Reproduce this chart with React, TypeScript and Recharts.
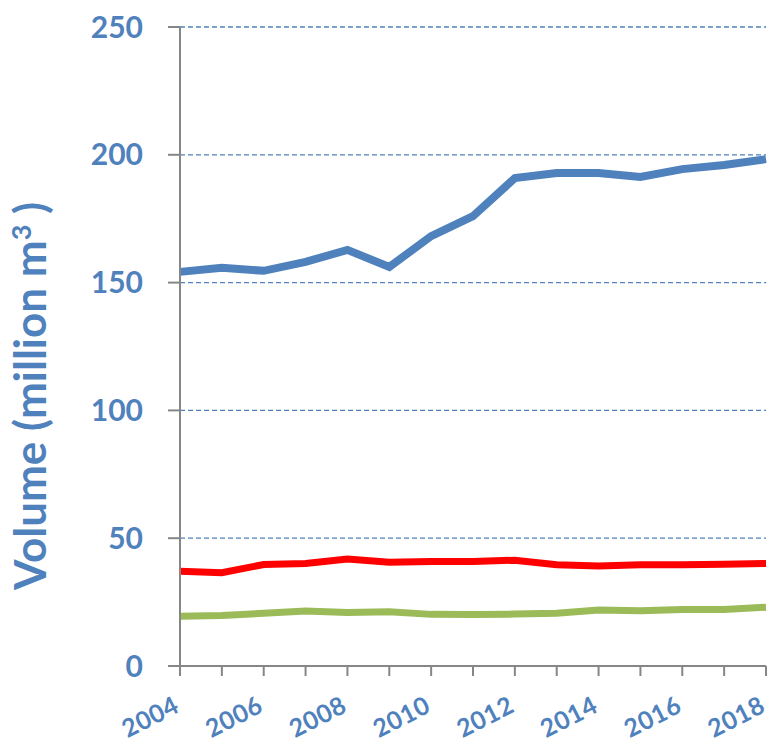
import { LineChart, Line, XAxis, YAxis, CartesianGrid } from 'recharts'

const YEARS = [2004, 2005, 2006, 2007, 2008, 2009, 2010, 2011, 2012, 2013, 2014, 2015, 2016, 2017, 2018]
const BLUE_SERIES = [154.2, 155.8, 154.6, 158.1, 162.8, 156.1, 168.2, 176, 190.9, 192.9, 192.9, 191.3, 194.4, 196, 198.3]
const RED_SERIES = [37.1, 36.5, 39.7, 40.1, 41.9, 40.6, 40.9, 40.9, 41.4, 39.6, 39.1, 39.6, 39.6, 39.8, 40.1]
const GREEN_SERIES = [19.5, 19.8, 20.6, 21.5, 20.9, 21.2, 20.2, 20.1, 20.3, 20.6, 21.9, 21.6, 22.1, 22.1, 23]
const Y_TICKS = [0, 50, 100, 150, 200, 250]

const TEXT_BLUE = '#4F81BD'
const AXIS_GREY = '#868686'

const data = YEARS.map((year, i) => ({
  year,
  blue: BLUE_SERIES[i],
  red: RED_SERIES[i],
  green: GREEN_SERIES[i],
}))

function YearTick({ x, y, payload }: any) {
  if (payload.value % 2 !== 0) return null
  return (
    <g transform={`translate(${x + 1},${y + 33})`}>
      <text
        x={0}
        y={0}
        textAnchor="end"
        transform="rotate(-27)"
        fill={TEXT_BLUE}
        fontFamily="Lato, sans-serif"
        fontWeight="bold"
        fontSize={25}
        letterSpacing={0.5}
      >
        {payload.value}
      </text>
    </g>
  )
}

function YTitle() {
  return (
    <text
      transform="translate(46,396) rotate(-90)"
      textAnchor="middle"
      fill={TEXT_BLUE}
      fontFamily="Lato, sans-serif"
      fontWeight="bold"
      fontSize={44}
    >
      Volume (million m<tspan fontSize={27} dy={-15}>3</tspan>
      <tspan dy={15}> )</tspan>
    </text>
  )
}

export default function App() {
  return (
    <div style={{ position: 'absolute', left: 0, top: 0, background: '#fff' }}>
      <LineChart width={770} height={743} data={data} margin={{ top: 27, right: 4, bottom: 0, left: 0 }}>
        <CartesianGrid
          vertical={false}
          stroke={TEXT_BLUE}
          strokeWidth={1.3}
          strokeDasharray="5 3"
          horizontalValues={[50, 100, 150, 200, 250]}
        />
        <XAxis
          dataKey="year"
          type="number"
          domain={[2004, 2018]}
          ticks={YEARS}
          interval={0}
          height={77}
          axisLine={{ stroke: AXIS_GREY, strokeWidth: 2 }}
          tickLine={{ stroke: AXIS_GREY, strokeWidth: 2 }}
          tickSize={10}
          tick={<YearTick />}
        />
        <YAxis
          domain={[0, 250]}
          ticks={Y_TICKS}
          width={180}
          axisLine={{ stroke: AXIS_GREY, strokeWidth: 2 }}
          tickLine={{ stroke: AXIS_GREY, strokeWidth: 2 }}
          tickSize={12}
          tickMargin={25}
          tick={{ fill: TEXT_BLUE, fontFamily: 'Lato, sans-serif', fontWeight: 'bold', fontSize: 30 }}
          label={{ content: <YTitle /> }}
        />
        <Line dataKey="blue" stroke="#4F81BD" strokeWidth={8} dot={false} isAnimationActive={false} />
        <Line dataKey="red" stroke="#FF0000" strokeWidth={7} dot={false} isAnimationActive={false} />
        <Line dataKey="green" stroke="#9BBB59" strokeWidth={7} dot={false} isAnimationActive={false} />
      </LineChart>
    </div>
  )
}
